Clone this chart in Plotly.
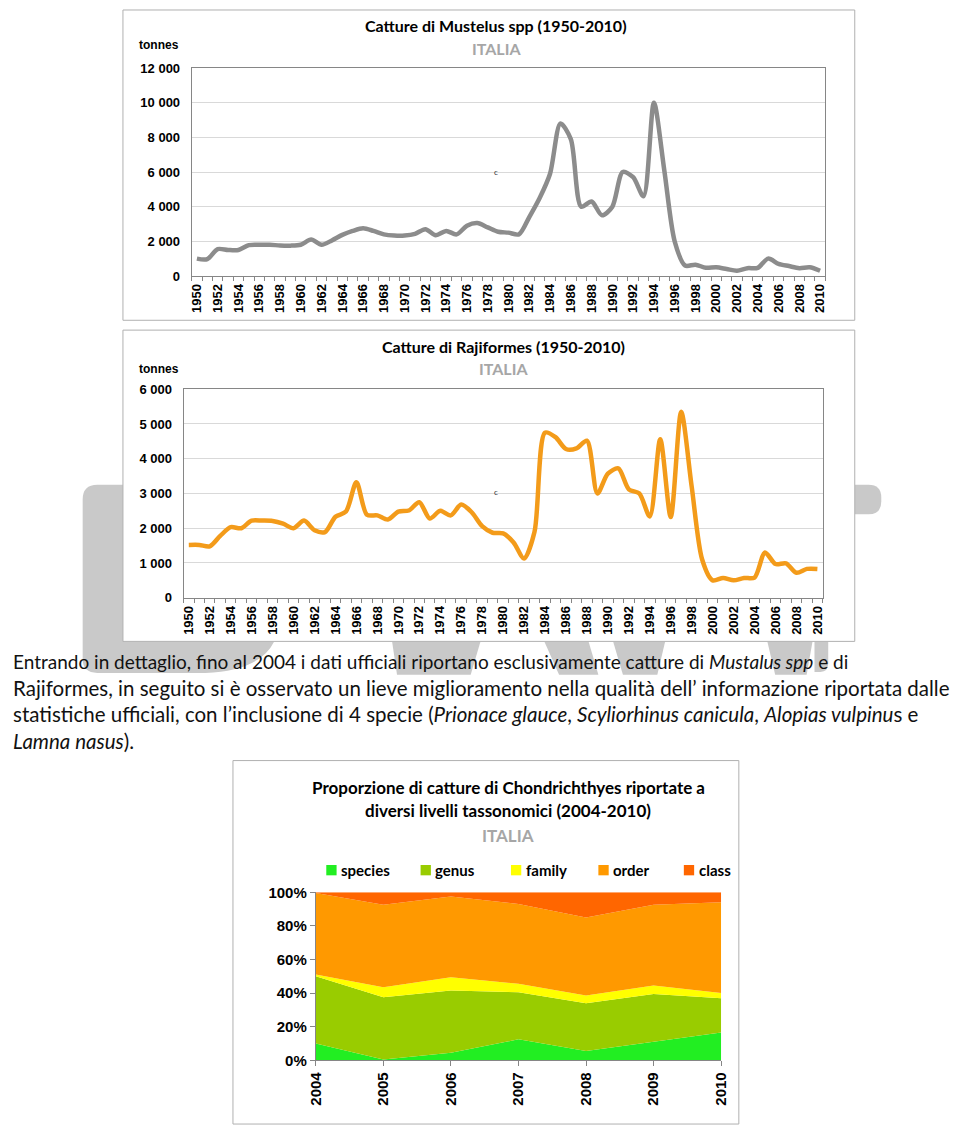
import re
import plotly.graph_objects as go

W, H = 960, 1135

# ---------------- data ----------------
years = list(range(1950, 2011))
mustelus = [1000, 970, 1550, 1500, 1500, 1780, 1800, 1800, 1760, 1750,
            1800, 2100, 1800, 2050, 2370, 2600, 2750, 2600, 2400, 2330,
            2330, 2430, 2700, 2350, 2600, 2400, 2900, 3050, 2800, 2550,
            2500, 2400, 3400, 4500, 5900, 8800, 7900, 4000, 4300, 3500,
            4000, 6000, 5700, 4600, 10000, 6100, 2000, 600, 650, 470,
            500, 400, 300, 450, 470, 1000, 700, 570, 450, 500,
            300]
rajiformes = [1520, 1520, 1480, 1780, 2030, 2000, 2220, 2220, 2210, 2130,
              2000, 2220, 1940, 1890, 2330, 2480, 3320, 2390, 2370, 2250,
              2480, 2510, 2750, 2280, 2500, 2370, 2680, 2460, 2060, 1870,
              1850, 1590, 1130, 1900, 4750, 4620, 4280, 4300, 4520, 3000,
              3570, 3720, 3120, 3000, 2340, 4560, 2320, 5350, 3200, 1100,
              500, 570, 500, 570, 580, 1300, 970, 990, 720, 830,
              830]

tax_years = [2004, 2005, 2006, 2007, 2008, 2009, 2010]
species = [10.0, 0.5, 4.5, 12.5, 5.5, 11.0, 16.5]
genus = [40.0, 37.0, 37.0, 28.0, 28.5, 28.5, 20.5]
family = [1.0, 6.0, 8.0, 5.0, 4.5, 5.0, 3.0]
order = [48.5, 49.0, 48.0, 47.5, 46.5, 48.0, 54.0]
klass = [0.5, 7.5, 2.5, 7.0, 15.0, 7.5, 6.0]
tax_names = ["species", "genus", "family", "order", "class"]
tax_colors = ["#22EE22", "#99CC00", "#FFFF00", "#FF9900", "#FF6600"]

y1_ticks = [0, 2000, 4000, 6000, 8000, 10000, 12000]
y2_ticks = [0, 1000, 2000, 3000, 4000, 5000, 6000]
y3_ticks = [0, 20, 40, 60, 80, 100]

# ---------------- helpers ----------------
def fx(p):
    return p / W

def fy(p):
    return 1 - p / H

TICKFONT = dict(family="Liberation Sans", size=13, color="#000000", weight="bold")
TXT = "Lato"
AXC = "#868686"
GRID = "#d9d9d9"

fig = go.Figure()

fig.add_trace(go.Scatter(x=years, y=mustelus, mode="lines",
                         line=dict(color="#8c8c8c", width=4.5, shape="spline", smoothing=0.8),
                         xaxis="x", yaxis="y", showlegend=False, hoverinfo="x+y"))
fig.add_trace(go.Scatter(x=years, y=rajiformes, mode="lines",
                         line=dict(color="#F39B1A", width=4.5, shape="spline", smoothing=0.8),
                         xaxis="x2", yaxis="y2", showlegend=False, hoverinfo="x+y"))

for name, vals, col in zip(tax_names, [species, genus, family, order, klass], tax_colors):
    fig.add_trace(go.Scatter(x=tax_years, y=vals, mode="lines", name=name,
                             line=dict(width=0, color=col), fillcolor=col,
                             stackgroup="tax", xaxis="x3", yaxis="y3",
                             showlegend=False))

def year_axis(dom, anchor):
    return dict(domain=dom, anchor=anchor, range=[1949.5, 2010.5],
                tickmode="array", tickvals=years[::2], ticktext=[str(y) for y in years[::2]],
                tickangle=-90, tickfont=TICKFONT, ticks="", showgrid=False,
                showline=True, linecolor=AXC, linewidth=1, mirror=True,
                zeroline=False, ticklabelstandoff=2,
                minor=dict(tick0=1949.5, dtick=1, ticks="outside", ticklen=4,
                           tickcolor=AXC, showgrid=False))

def val_axis(dom, anchor, ticks, top):
    return dict(domain=dom, anchor=anchor, range=[0, top],
                tickmode="array", tickvals=ticks,
                ticktext=[f"{t:,}".replace(",", " ") for t in ticks],
                tickfont=TICKFONT, showgrid=True, gridcolor=GRID, gridwidth=1,
                showline=True, linecolor=AXC, linewidth=1, mirror=True,
                zeroline=False, ticks="", ticklabelstandoff=8)

TF3 = dict(family="Liberation Sans", size=15, color="#000", weight="bold")
fig.update_layout(
    width=W, height=H, margin=dict(l=0, r=0, t=0, b=0),
    paper_bgcolor="white", plot_bgcolor="rgba(0,0,0,0)",
    xaxis=year_axis([fx(186), fx(831)], "y"),
    yaxis=val_axis([fy(271), fy(60)], "x", y1_ticks, 12000),
    xaxis2=year_axis([fx(177.7), fx(828.3)], "y2"),
    yaxis2=val_axis([fy(597.7), fy(386)], "x2", y2_ticks, 6000),
    xaxis3=dict(domain=[fx(312.3), fx(725)], anchor="y3", range=[2004, 2010],
                tickmode="array", tickvals=tax_years, ticktext=[str(y) for y in tax_years],
                tickangle=-90, tickfont=TF3,
                ticks="outside", ticklen=5, tickcolor=AXC, showgrid=False,
                showline=True, linecolor=AXC, zeroline=False),
    yaxis3=dict(domain=[fy(1067.3), fy(896.7)], anchor="x3", range=[0, 100],
                tickmode="array", tickvals=y3_ticks, ticktext=[f"{t}%" for t in y3_ticks],
                tickfont=TF3,
                ticks="outside", ticklen=5, tickcolor=AXC, showgrid=False,
                showline=True, linecolor=AXC, zeroline=False),
)

# ---------------- shapes ----------------
def conv(path):
    res = []
    k = 0
    for t in path.split():
        if re.match(r"^[A-Za-z]$", t):
            res.append(t)
            k = 0
        else:
            v = float(t)
            res.append(f"{fx(v):.5f}" if k % 2 == 0 else f"{fy(v):.5f}")
            k += 1
    return " ".join(res)

shapes = []
WM = "#c9c9c9"
wm_paths = [
    "M 75 498 Q 75 483 90 483 L 116 483 L 116 642 L 270 642 Q 255 672 200 674 L 90 674 Q 75 674 75 660 Z",
    "M 861 483 L 875 483 Q 888 483 888 496 L 888 500 Q 888 513 875 513 L 861 513 Z",
    "M 820 642 L 834 642 L 834 664 Q 834 673 826 673 L 820 673 Z",
    "M 390 642 L 480 642 L 470 676 L 395 676 Z",
    "M 545 642 L 590 642 L 600 676 L 560 676 Z",
    "M 615 642 L 668 642 L 660 676 L 625 676 Z",
    "M 772 642 L 818 642 L 812 676 L 780 676 Z",
]
for p in wm_paths:
    shapes.append(dict(type="path", path=conv(p), xref="paper", yref="paper", layer="below",
                       fillcolor=WM, line=dict(width=0)))

for (x0, y0, x1, y1) in [(116, 1, 861, 316), (116, 326, 861, 642), (228, 763, 743, 1132)]:
    shapes.append(dict(type="rect", xref="paper", yref="paper", layer="below",
                       x0=fx(x0), x1=fx(x1), y0=fy(y1), y1=fy(y0),
                       fillcolor="white", line=dict(color="#b0b0b0", width=1)))

leg_x = [323, 419, 511, 600, 687]
for lx, col in zip(leg_x, tax_colors):
    shapes.append(dict(type="rect", xref="paper", yref="paper", layer="above",
                       x0=fx(lx), x1=fx(lx + 10.5), y0=fy(879.5), y1=fy(869),
                       fillcolor=col, line=dict(width=0)))
fig.update_layout(shapes=shapes)

# ---------------- text ----------------
ann = []
def txt(x, y, s, size, color="#000", bold=False, xanchor="center", family=TXT):
    ann.append(dict(x=fx(x), y=fy(y), xref="paper", yref="paper", text=(f"<b>{s}</b>" if bold else s),
                    showarrow=False, xanchor=xanchor, yanchor="middle", borderpad=0,
                    font=dict(family=family, size=size, color=color)))

txt(496, 17, "Catture di Mustelus spp (1950-2010)", 16, bold=True)
txt(496, 40, "ITALIA", 16, color="#a6a6a6", bold=True)
txt(131, 37, "tonnes", 12, bold=True, xanchor="left", family="Liberation Sans")
txt(496, 165, "c", 8, color="#333")

txt(503, 343, "Catture di Rajiformes (1950-2010)", 16, bold=True)
txt(503, 365, "ITALIA", 16, color="#a6a6a6", bold=True)
txt(131, 365, "tonnes", 12, bold=True, xanchor="left", family="Liberation Sans")
txt(496, 490, "c", 8, color="#333")

txt(508, 790, "Proporzione di catture di Chondrichthyes riportate a", 17, bold=True)
txt(508, 814, "diversi livelli tassonomici (2004-2010)", 17, bold=True)
txt(508, 839, "ITALIA", 17, color="#a6a6a6", bold=True)
for lx, name in zip(leg_x, tax_names):
    txt(lx + 14, 874, name, 15, bold=True, xanchor="left")

lines = [
    "Entrando in dettaglio, fino al 2004 i dati ufficiali riportano esclusivamente catture di <i>Mustalus spp</i> e di",
    "Rajiformes, in seguito si è osservato un lieve miglioramento nella qualità dell’ informazione riportata dalle",
    "statistiche ufficiali, con l’inclusione di 4 specie (<i>Prionace glauce</i>, <i>Scyliorhinus canicula</i>, <i>Alopias vulpinu</i>s e",
    "<i>Lamna nasus</i>).",
]
line_sizes = [19, 20.5, 20.5, 20.5]
for i, (s, fs) in enumerate(zip(lines, line_sizes)):
    txt(3, 662 + i * 27, s, fs, color="#111", xanchor="left")

fig.update_layout(annotations=ann)
fig.write_html("out.html", config={"displayModeBar": False},
               post_script="document.body.style.margin='0';document.body.style.overflow='hidden';")
